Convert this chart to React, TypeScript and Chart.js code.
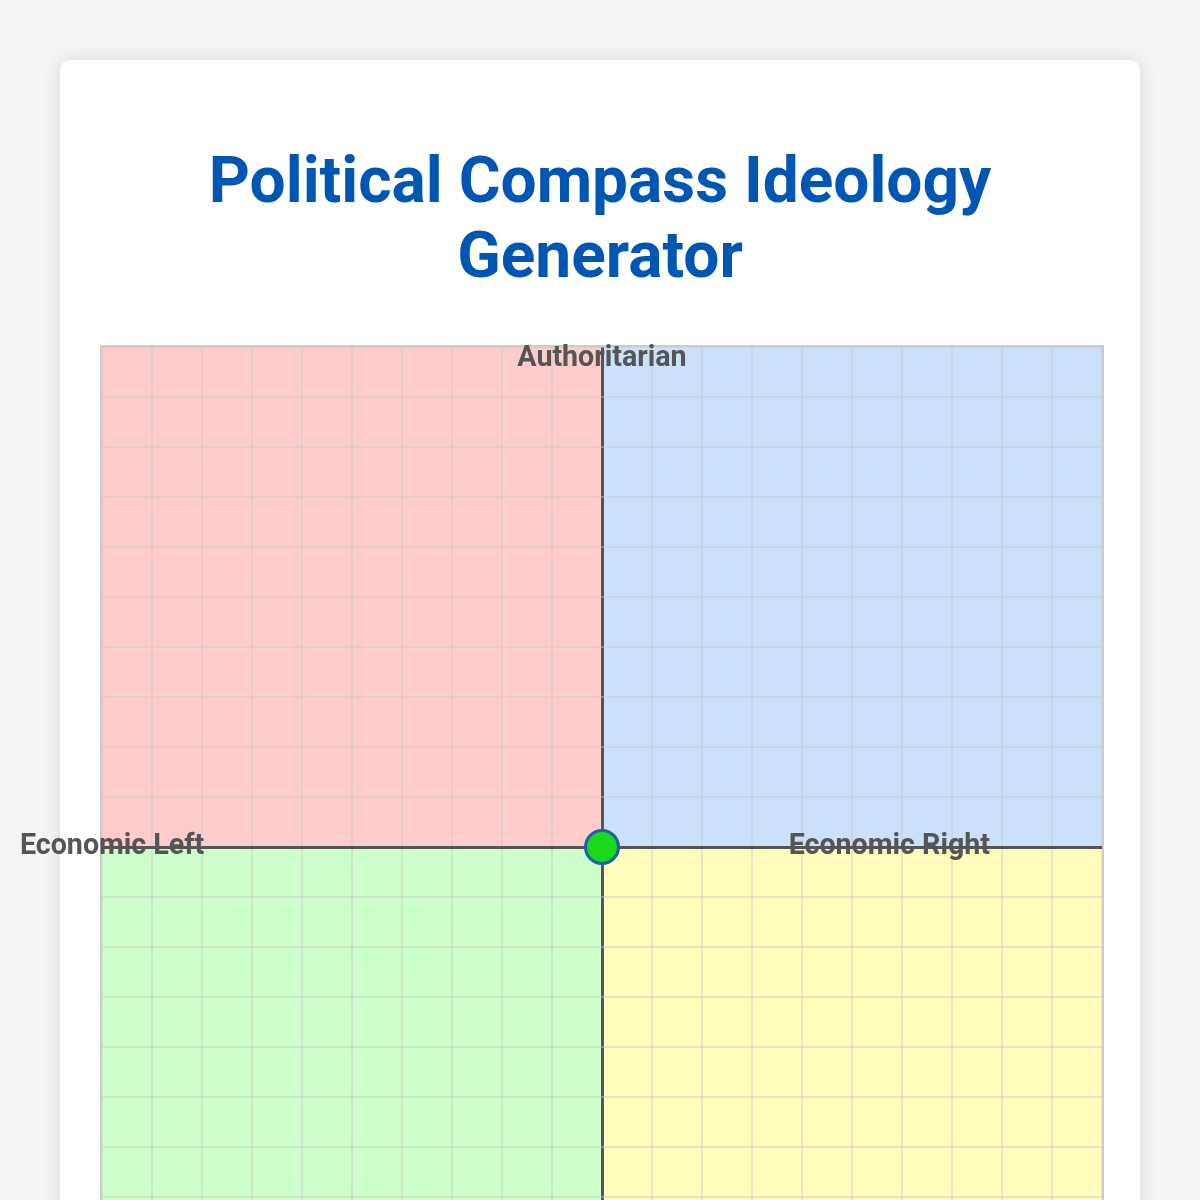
import React, { useEffect, useRef } from "react";
import { Chart, registerables } from "chart.js";

Chart.register(...registerables);

const titleText = "Political Compass Ideology Generator";
const economicValues = [0];
const socialValues = [0];
const axisMin = -10;
const axisMax = 10;
const axisStep = 1;
const quadrantColors = ["#ffcccc", "#cce0fa", "#ccffcc", "#fffcbb"]; // TL, TR, BL, BR
const axisLabels = { top: "Authoritarian", left: "Economic Left", right: "Economic Right", bottom: "Libertarian" };

const quadrantPlugin = {
  id: "quadrants",
  beforeDraw(chart: any) {
    const { ctx, chartArea, scales } = chart;
    const x0 = scales.x.getPixelForValue(0);
    const y0 = scales.y.getPixelForValue(0);
    const { left, right, top, bottom } = chartArea;
    ctx.save();
    ctx.fillStyle = quadrantColors[0];
    ctx.fillRect(left, top, x0 - left, y0 - top);
    ctx.fillStyle = quadrantColors[1];
    ctx.fillRect(x0, top, right - x0, y0 - top);
    ctx.fillStyle = quadrantColors[2];
    ctx.fillRect(left, y0, x0 - left, bottom - y0);
    ctx.fillStyle = quadrantColors[3];
    ctx.fillRect(x0, y0, right - x0, bottom - y0);
    ctx.restore();
  },
};

export default function App() {
  const canvasRef = useRef<HTMLCanvasElement | null>(null);

  useEffect(() => {
    document.body.style.margin = "0";
    document.body.style.background = "#f4f4f4";
    const canvas = canvasRef.current;
    if (!canvas) return;
    const gridColor = (c: any) => (c.tick && c.tick.value === 0 ? "#555555" : "rgba(200,200,200,0.42)");
    const gridWidth = (c: any) => (c.tick && c.tick.value === 0 ? 3 : 2);
    const chart = new Chart(canvas, {
      type: "scatter",
      data: {
        datasets: [
          {
            label: "Position",
            data: economicValues.map((x, i) => ({ x, y: socialValues[i] })),
            backgroundColor: "#1ad81a",
            borderColor: "#1f5faf",
            borderWidth: 3,
            pointRadius: 16.5,
          },
        ],
      },
      options: {
        responsive: false,
        animation: false,
        layout: { padding: 0, autoPadding: false },
        plugins: { legend: { display: false }, tooltip: { enabled: false } },
        scales: {
          x: {
            type: "linear",
            min: axisMin,
            max: axisMax,
            ticks: { display: false, stepSize: axisStep },
            grid: { color: gridColor, lineWidth: gridWidth, drawTicks: false },
            border: { display: false },
          },
          y: {
            type: "linear",
            min: axisMin,
            max: axisMax,
            ticks: { display: false, stepSize: axisStep },
            grid: { color: gridColor, lineWidth: gridWidth, drawTicks: false },
            border: { display: false },
          },
        },
      },
      plugins: [quadrantPlugin],
    });
    return () => chart.destroy();
  }, []);

  const labelStyle: React.CSSProperties = {
    position: "absolute",
    fontFamily: "Roboto, sans-serif",
    fontWeight: 700,
    fontSize: 28.6,
    color: "#555555",
    whiteSpace: "nowrap",
    pointerEvents: "none",
  };

  return (
    <div style={{ padding: "60px 60px", fontFamily: "Roboto, sans-serif" }}>
      <div
        style={{
          background: "#ffffff",
          borderRadius: 10,
          padding: 40,
          boxShadow: "0 0 20px rgba(0,0,0,0.1)",
          width: 1000,
        }}
      >
        <h1
          style={{
            fontFamily: "Roboto, sans-serif",
            fontSize: 64,
            fontWeight: 700,
            color: "#0056b3",
            textAlign: "center",
            margin: "43px 0 52px",
          }}
        >
          {titleText}
        </h1>
        <div
          style={{
            position: "relative",
            width: 1000,
            height: 1000,
            border: "2px solid #cccccc",
          }}
        >
          <canvas ref={canvasRef} width={1000} height={1000} style={{ display: "block" }} />
          <div style={{ ...labelStyle, top: -8, left: "50%", transform: "translateX(-50%)" }}>{axisLabels.top}</div>
          <div style={{ ...labelStyle, top: "50%", left: -82, transform: "translateY(calc(-50% - 3px))" }}>{axisLabels.left}</div>
          <div style={{ ...labelStyle, top: "50%", right: 112, transform: "translateY(calc(-50% - 3px))" }}>{axisLabels.right}</div>
          <div style={{ ...labelStyle, bottom: -8, left: "50%", transform: "translateX(-50%)" }}>{axisLabels.bottom}</div>
        </div>
      </div>
    </div>
  );
}
